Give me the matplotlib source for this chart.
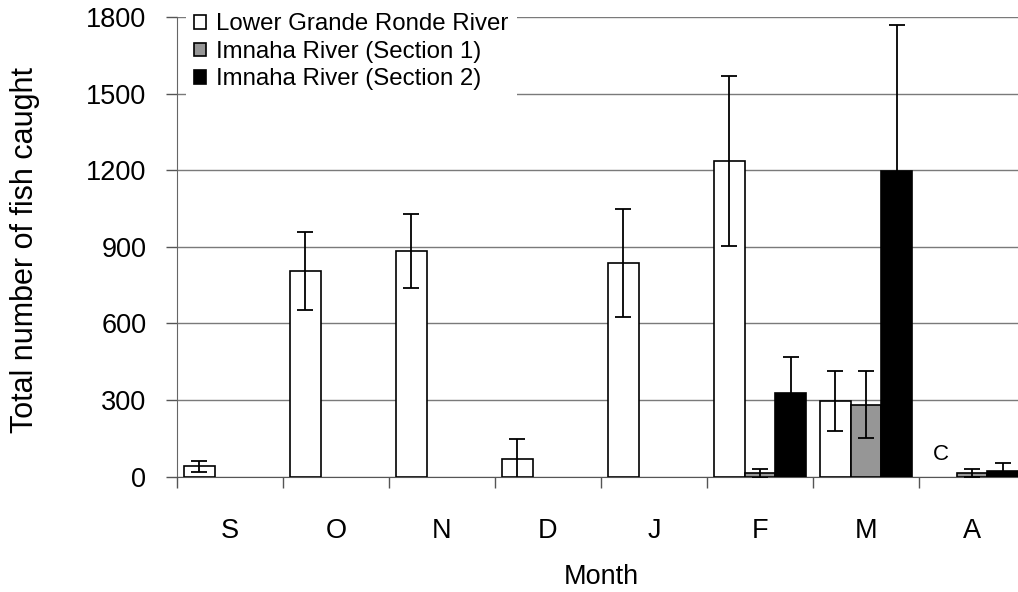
import matplotlib
matplotlib.use("Agg")
import matplotlib.pyplot as plt
import numpy as np

plt.rcParams['font.family'] = ['Liberation Sans', 'DejaVu Sans']

# data
months = ['S', 'O', 'N', 'D', 'J', 'F', 'M', 'A']
series_names = ['Lower Grande Ronde River', 'Imnaha River (Section 1)', 'Imnaha River (Section 2)']

grande_ronde = [40, 805, 885, 70, 837, 1235, 296, np.nan]
grande_ronde_err = [23, 152, 145, 78, 211, 333, 118, np.nan]

imnaha_1 = [np.nan, np.nan, np.nan, np.nan, np.nan, 13, 282, 15]
imnaha_1_err = [np.nan, np.nan, np.nan, np.nan, np.nan, 17, 130, 16]

imnaha_2 = [np.nan, np.nan, np.nan, np.nan, np.nan, 329, 1198, 23]
imnaha_2_err = [np.nan, np.nan, np.nan, np.nan, np.nan, 140, 572, 32]

fig = plt.figure(figsize=(10.18, 5.92), dpi=100)
ax = fig.add_axes([177 / 1018, 115.3 / 592, 848 / 1018, 459.7 / 592])

x = np.arange(len(months))
w = 0.29
err_kw = dict(ecolor='black', elinewidth=1.3, capsize=5.5, capthick=1.3, zorder=4)

series = [
    (grande_ronde, grande_ronde_err, 'white', -w),
    (imnaha_1, imnaha_1_err, '#969696', 0),
    (imnaha_2, imnaha_2_err, 'black', w),
]
for (vals, errs, col, off), name in zip(series, series_names):
    ax.bar(x + off, vals, w, yerr=errs, color=col, edgecolor='black',
           linewidth=1.2, label=name, zorder=3, error_kw=err_kw)

ax.text(7 - w, 85, 'C', fontsize=16, ha='center', va='center', zorder=5)

ax.set_ylim(0, 1800)
ax.set_xlim(-0.5, 7.5)
ax.set_yticks(np.arange(0, 1801, 300))
ax.yaxis.grid(True, color='#7a7a7a', linewidth=1.0, zorder=0)
ax.set_axisbelow(True)

ax.set_xticks(x)
ax.set_xticklabels(months)
ax.set_xticks(np.arange(-0.5, 8, 1), minor=True)
ax.tick_params(axis='x', which='major', length=0, pad=30, labelsize=19.5)
ax.tick_params(axis='x', which='minor', length=8, width=1, color='#555555', direction='out')
ax.tick_params(axis='y', length=8, width=1, color='#555555', pad=14, labelsize=19.5)

for s in ['top', 'right']:
    ax.spines[s].set_visible(False)
ax.spines['left'].set_color('#666666')
ax.spines['bottom'].set_color('#555555')

ax.set_xlabel('Month', fontsize=19.5, labelpad=14)
fig.text(25 / 1018, 1 - 250 / 592, 'Total number of fish caught',
         rotation=90, fontsize=22, ha='center', va='center')

leg = ax.legend(loc='upper left', bbox_to_anchor=(186 / 1018, 1 - 5 / 592),
                bbox_transform=fig.transFigure, fontsize=17.3, frameon=True,
                fancybox=False, edgecolor='none', facecolor='white', framealpha=1,
                handlelength=0.5, handleheight=0.5, handletextpad=0.4,
                labelspacing=0.23, borderpad=0.35, borderaxespad=0)
leg.set_zorder(6)

fig.savefig('out.png', dpi=100)
